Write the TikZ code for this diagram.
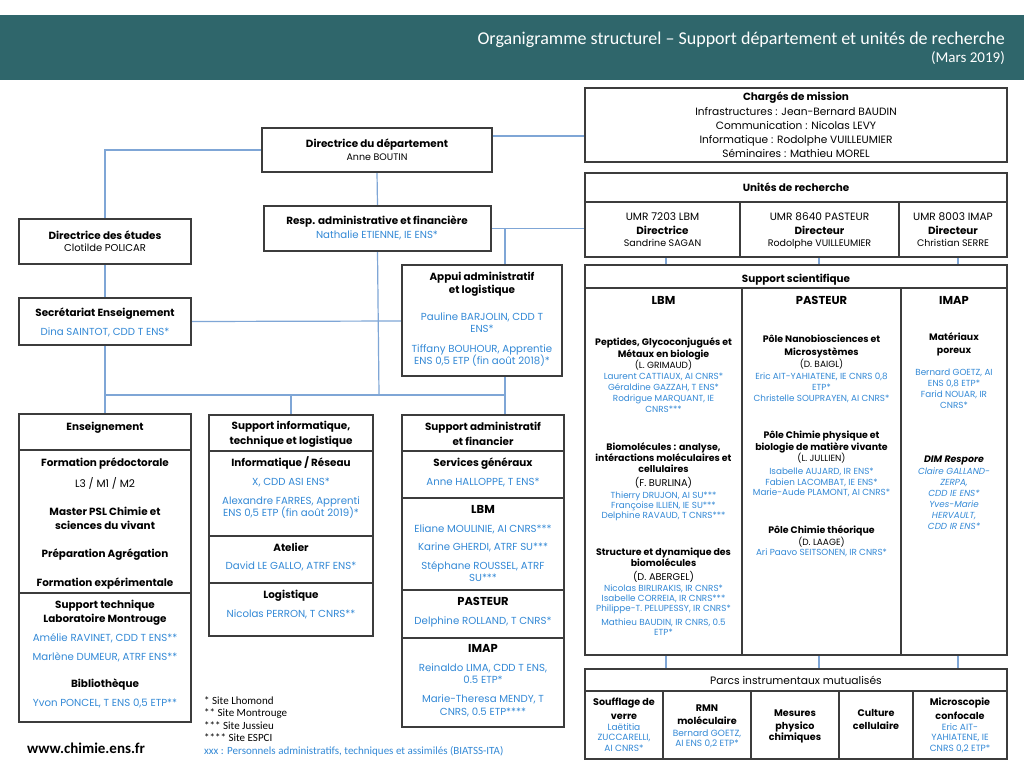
\documentclass[tikz,border=0pt]{standalone}
\usepackage{fontspec}
\setmainfont{Poppins}
\newfontfamily\calib{Carlito}
\usetikzlibrary{fit}
\definecolor{hdrcol}{HTML}{2F666B}
\definecolor{nmblue}{HTML}{3389D6}
\definecolor{lnblue}{HTML}{7FA6D6}
\definecolor{bxgray}{HTML}{3C3C3C}
\newcommand\T[4][]{\node[anchor=base,inner sep=0pt,#1] at (#2,#3) {#4};}
\newcommand\bx[5]{\coordinate (#1a) at (#2,#3);\coordinate (#1b) at (#4,#5);
  \node[boxst,fit=(#1a)(#1b)] (#1) {};}
\begin{document}
\begin{tikzpicture}[x=1pt,y=-1pt,
  boxst/.style={draw=bxgray,line width=1.2pt,fill=white,inner sep=0pt},
  conn/.style={draw=lnblue,line width=1.2pt},
  dv/.style={draw=bxgray,line width=1.2pt},
  tb/.style={font=\bfseries\fontsize{10.4}{12}\selectfont},
  nb/.style={font=\fontsize{10.2}{12}\selectfont,text=nmblue},
  rg/.style={font=\fontsize{10}{12}\selectfont},
  big/.style={font=\fontsize{10.6}{12}\selectfont},
  st/.style={font=\bfseries\fontsize{9.4}{11}\selectfont},
  sn/.style={font=\fontsize{8.8}{10}\selectfont,text=nmblue},
  sp/.style={font=\fontsize{9}{10}\selectfont},
  hb/.style={font=\bfseries\fontsize{11.5}{13}\selectfont},
  pt/.style={font=\bfseries\fontsize{9.6}{11}\selectfont},
  pn/.style={font=\fontsize{9}{10}\selectfont,text=nmblue},
  fn/.style={font=\calib\fontsize{11}{13}\selectfont,anchor=base west}]
\useasboundingbox (0,0) rectangle (1024,765);
\fill[white] (0,0) rectangle (1024,765);
% header
\fill[hdrcol] (0,15) rectangle (1024,80);
\T[anchor=base east,text=white,font=\calib\fontsize{18}{20}\selectfont]{1005}{45}{Organigramme structurel – Support département et unités de recherche}
\T[anchor=base east,text=white,font=\calib\fontsize{15}{17}\selectfont]{1005}{63}{(Mars 2019)}
% boxes (first pass, for anchors)
\bx{dirdep}{262}{128}{492}{172}
\bx{resp}{264}{206}{491}{251}
\bx{dirEt}{19}{219}{191}{264}
\bx{secr}{19}{298}{191}{345}
\bx{ens}{19}{414}{191}{722}
\bx{supinf}{209}{415}{373}{636}
\bx{supadm}{402}{415}{564}{727}
\bx{charges}{585}{88}{1007}{162}
\bx{unites}{585}{173}{1007}{257}
\bx{supsci}{585}{265}{1007}{655}
\bx{parcs}{585}{669}{1007}{759}
\coordinate (bus) at (379,395);
\coordinate (adm) at (505,0);
% connectors
\draw[conn] (dirdep.west) -| (dirEt.north);
\draw[conn] (dirEt.south) -- (secr.north);
\draw[conn] (dirdep.south) -- (resp.north);
\draw[conn] (dirdep.east |- 0,136) -- (charges.west |- 0,136);
\draw[conn] (resp.east) -- (unites.west |- resp.east);
\draw[conn] (resp.south) -- (bus);
\draw[conn] (secr.south) -- (ens.north);
\draw[conn] (ens.north |- bus) -- (adm |- bus);
\draw[conn] (supinf.north |- bus) -- (supinf.north);
\draw[conn] (adm |- resp.east) -- (adm |- supadm.north);
\foreach \xx in {666,819,958}{
  \draw[conn] (\xx,257) -- (\xx,265);
  \draw[conn] (\xx,655) -- (\xx,669);
}
\draw[conn] (secr.east) -- (402,321);
% boxes redrawn on top
\bx{dirdepT}{262}{128}{492}{172}
\bx{respT}{264}{206}{491}{251}
\bx{dirEtT}{19}{219}{191}{264}
\bx{secrT}{19}{298}{191}{345}
\bx{appui}{402}{265}{562}{376}
\bx{ensT}{19}{414}{191}{722}
\bx{supinfT}{209}{415}{373}{636}
\bx{supadmT}{402}{415}{564}{727}
\bx{chargesT}{585}{88}{1007}{162}
\bx{unitesT}{585}{173}{1007}{257}
\bx{supsciT}{585}{265}{1007}{655}
\bx{parcsT}{585}{669}{1007}{759}
% dividers
\draw[dv] (585,202) -- (1007,202) (740,202) -- (740,257) (899,202) -- (899,257);
\draw[dv] (585,288) -- (1007,288) (742,288) -- (742,655) (901,288) -- (901,655);
\draw[dv] (585,691) -- (1007,691);
\foreach \xx in {663,751,839,913}{\draw[dv] (\xx,691) -- (\xx,759);}
\draw[dv] (19,450) -- (191,450) (19,593) -- (191,593);
\foreach \yy in {451,536,583}{\draw[dv] (209,\yy) -- (373,\yy);}
\foreach \yy in {451,498,590,638}{\draw[dv] (402,\yy) -- (564,\yy);}
% --- texts: top left
\T[tb]{377}{147}{Directrice du département}
\T[rg,font=\fontsize{9.5}{11}\selectfont]{377}{160}{Anne BOUTIN}
\T[tb]{377}{224}{Resp. administrative et financière}
\T[nb]{377}{238}{Nathalie ETIENNE, IE ENS*}
\T[tb]{105}{239}{Directrice des études}
\T[rg]{105}{251}{Clotilde POLICAR}
\T[tb]{105}{316}{Secrétariat Enseignement}
\T[nb]{105}{335}{Dina SAINTOT, CDD T ENS*}
\T[tb]{482}{280}{Appui administratif}
\T[tb]{482}{293}{et logistique}
\T[nb]{482}{320}{Pauline BARJOLIN, CDD T}
\T[nb]{482}{332}{ENS*}
\T[nb]{482}{352}{Tiffany BOUHOUR, Apprentie}
\T[nb]{482}{364}{ENS 0,5 ETP (fin août 2018)*}
% chargés
\T[tb]{796}{101}{Chargés de mission}
\T[big]{796}{115}{Infrastructures : Jean-Bernard BAUDIN}
\T[big]{796}{129}{Communication : Nicolas LEVY}
\T[big]{796}{143}{Informatique : Rodolphe VUILLEUMIER}
\T[big]{796}{157}{Séminaires : Mathieu MOREL}
% unités
\T[tb]{796}{191}{Unités de recherche}
\T[big]{662.5}{220}{UMR 7203 LBM}
\T[tb]{662.5}{234}{Directrice}
\T[rg,font=\fontsize{9.5}{11}\selectfont]{662.5}{246}{Sandrine SAGAN}
\T[big]{819.5}{220}{UMR 8640 PASTEUR}
\T[tb]{819.5}{234}{Directeur}
\T[rg,font=\fontsize{9.5}{11}\selectfont]{819.5}{246}{Rodolphe VUILLEUMIER}
\T[big]{953}{220}{UMR 8003 IMAP}
\T[tb]{953}{234}{Directeur}
\T[rg,font=\fontsize{9.5}{11}\selectfont]{953}{246}{Christian SERRE}
% support scientifique
\T[tb]{796}{282}{Support scientifique}
\T[hb]{663.5}{304}{LBM}
\T[hb]{821.5}{304}{PASTEUR}
\T[hb]{954}{304}{IMAP}
% LBM
\T[st]{663.5}{345}{Peptides, Glycoconjugués et}
\T[st]{663.5}{357}{Métaux en biologie}
\T[sp]{663.5}{368}{(L. GRIMAUD)}
\T[sn]{663.5}{379}{Laurent CATTIAUX, AI CNRS*}
\T[sn]{663.5}{390}{Géraldine GAZZAH, T ENS*}
\T[sn]{663.5}{401}{Rodrigue MARQUANT, IE}
\T[sn]{663.5}{412}{CNRS***}
\T[st]{663.5}{450}{Biomolécules : analyse,}
\T[st]{663.5}{461}{intéractions moléculaires et}
\T[st]{663.5}{472}{cellulaires}
\T[sp,font=\fontsize{9.8}{11}\selectfont]{663.5}{486}{(F. BURLINA)}
\T[sn]{663.5}{498}{Thierry DRUJON, AI SU***}
\T[sn]{663.5}{508}{Françoise ILLIEN, IE SU***}
\T[sn]{663.5}{518}{Delphine RAVAUD, T CNRS***}
\T[st]{663.5}{555}{Structure et dynamique des}
\T[st]{663.5}{566}{biomolécules}
\T[sp,font=\fontsize{9.8}{11}\selectfont]{663.5}{580}{(D. ABERGEL)}
\T[sn]{663.5}{591}{Nicolas BIRLIRAKIS, IR CNRS*}
\T[sn]{663.5}{601}{Isabelle CORREIA, IR CNRS***}
\T[sn]{663.5}{611}{Philippe-T. PELUPESSY, IR CNRS*}
\T[sn]{663.5}{625}{Mathieu BAUDIN, IR CNRS, 0.5}
\T[sn]{663.5}{635}{ETP*}
% PASTEUR
\T[st]{821.5}{342}{Pôle Nanobiosciences et}
\T[st]{821.5}{355}{Microsystèmes}
\T[sp]{821.5}{367}{(D. BAIGL)}
\T[sn]{821.5}{379}{Eric AIT-YAHIATENE, IE CNRS 0,8}
\T[sn]{821.5}{390}{ETP*}
\T[sn]{821.5}{401}{Christelle SOUPRAYEN, AI CNRS*}
\T[st]{821.5}{438}{Pôle Chimie physique et}
\T[st]{821.5}{450}{biologie de matière vivante}
\T[sp]{821.5}{461}{(L. JULLIEN)}
\T[sn]{821.5}{474}{Isabelle AUJARD, IR ENS*}
\T[sn]{821.5}{485}{Fabien LACOMBAT, IE ENS*}
\T[sn]{821.5}{495}{Marie-Aude PLAMONT, AI CNRS*}
\T[st]{821.5}{533}{Pôle Chimie théorique}
\T[sp]{821.5}{545}{(D. LAAGE)}
\T[sn]{821.5}{555}{Ari Paavo SEITSONEN, IR CNRS*}
% IMAP
\T[st]{954}{340}{Matériaux}
\T[st]{954}{353}{poreux}
\T[sn]{954}{375}{Bernard GOETZ, AI}
\T[sn]{954}{386}{ENS 0,8 ETP*}
\T[sn]{954}{397}{Farid NOUAR, IR}
\T[sn]{954}{408}{CNRS*}
\T[st,font=\bfseries\itshape\fontsize{9.4}{11}\selectfont]{954}{462}{DIM Respore}
\T[sn,font=\itshape\fontsize{8.8}{10}\selectfont]{954}{474}{Claire GALLAND-}
\T[sn,font=\itshape\fontsize{8.8}{10}\selectfont]{954}{485}{ZERPA,}
\T[sn,font=\itshape\fontsize{8.8}{10}\selectfont]{954}{496}{CDD IE ENS*}
\T[sn,font=\itshape\fontsize{8.8}{10}\selectfont]{954}{507}{Yves-Marie}
\T[sn,font=\itshape\fontsize{8.8}{10}\selectfont]{954}{518}{HERVAULT,}
\T[sn,font=\itshape\fontsize{8.8}{10}\selectfont]{954}{529}{CDD IR ENS*}
% Enseignement
\T[tb]{105}{430}{Enseignement}
\T[tb]{105}{466}{Formation prédoctorale}
\T[big]{105}{487}{L3 / M1 / M2}
\T[tb]{105}{515}{Master PSL Chimie et}
\T[tb]{105}{529}{sciences du vivant}
\T[tb]{105}{557}{Préparation Agrégation}
\T[tb]{105}{586}{Formation expérimentale}
\T[tb]{105}{608}{Support technique}
\T[tb]{105}{622}{Laboratoire Montrouge}
\T[nb]{105}{641}{Amélie RAVINET, CDD T ENS**}
\T[nb]{105}{660}{Marlène DUMEUR, ATRF ENS**}
\T[tb]{105}{687}{Bibliothèque}
\T[nb]{105}{706}{Yvon PONCEL, T ENS 0,5 ETP**}
% Support informatique
\T[tb]{291}{429}{Support informatique,}
\T[tb]{291}{444}{technique et logistique}
\T[tb]{291}{466}{Informatique / Réseau}
\T[nb]{291}{485}{X, CDD ASI ENS*}
\T[nb]{291}{504}{Alexandre FARRES, Apprenti}
\T[nb]{291}{516}{ENS 0,5 ETP (fin août 2019)*}
\T[tb]{291}{551}{Atelier}
\T[nb]{291}{569}{David LE GALLO, ATRF ENS*}
\T[tb]{291}{598}{Logistique}
\T[nb]{291}{617}{Nicolas PERRON, T CNRS**}
% Support administratif
\T[tb]{483}{430}{Support administratif}
\T[tb]{483}{445}{et financier}
\T[tb]{483}{466}{Services généraux}
\T[nb]{483}{485}{Anne HALLOPPE, T ENS*}
\T[hb]{483}{513}{LBM}
\T[nb]{483}{532}{Eliane MOULINIE, AI CNRS***}
\T[nb]{483}{550}{Karine GHERDI, ATRF SU***}
\T[nb]{483}{569}{Stéphane ROUSSEL, ATRF}
\T[nb]{483}{581}{SU***}
\T[hb]{483}{605}{PASTEUR}
\T[nb]{483}{624}{Delphine ROLLAND, T CNRS*}
\T[hb]{483}{652}{IMAP}
\T[nb]{483}{671}{Reinaldo LIMA, CDD T ENS,}
\T[nb]{483}{683}{0.5 ETP*}
\T[nb]{483}{702}{Marie-Theresa MENDY, T}
\T[nb]{483}{715}{CNRS, 0.5 ETP****}
% Parcs
\T[big,font=\fontsize{10.7}{12}\selectfont]{796}{684}{Parcs instrumentaux mutualisés}
\T[pt]{624}{705}{Soufflage de}
\T[pt]{624}{719}{verre}
\T[pn]{624}{730}{Laëtitia}
\T[pn]{624}{740}{ZUCCARELLI,}
\T[pn]{624}{751}{AI CNRS*}
\T[pt]{707}{711}{RMN}
\T[pt]{707}{724}{moléculaire}
\T[pn]{707}{736}{Bernard GOETZ,}
\T[pn]{707}{746}{AI ENS 0,2 ETP*}
\T[pt]{795}{716}{Mesures}
\T[pt]{795}{729}{physico}
\T[pt]{795}{740}{chimiques}
\T[pt]{876}{716}{Culture}
\T[pt]{876}{729}{cellulaire}
\T[pt]{960}{705}{Microscopie}
\T[pt]{960}{719}{confocale}
\T[pn]{960}{730}{Eric AIT-}
\T[pn]{960}{740}{YAHIATENE, IE}
\T[pn]{960}{751}{CNRS 0,2 ETP*}
% footnotes
\T[fn]{204}{704}{* Site Lhomond}
\T[fn]{204}{716}{** Site Montrouge}
\T[fn]{204}{729}{*** Site Jussieu}
\T[fn]{204}{741}{**** Site ESPCI}
\T[fn,text=nmblue]{204}{754}{xxx : Personnels administratifs, techniques et assimilés (BIATSS-ITA)}
\T[anchor=base west,font=\calib\bfseries\fontsize{15}{17}\selectfont]{27}{753}{www.chimie.ens.fr}
\end{tikzpicture}
\end{document}
